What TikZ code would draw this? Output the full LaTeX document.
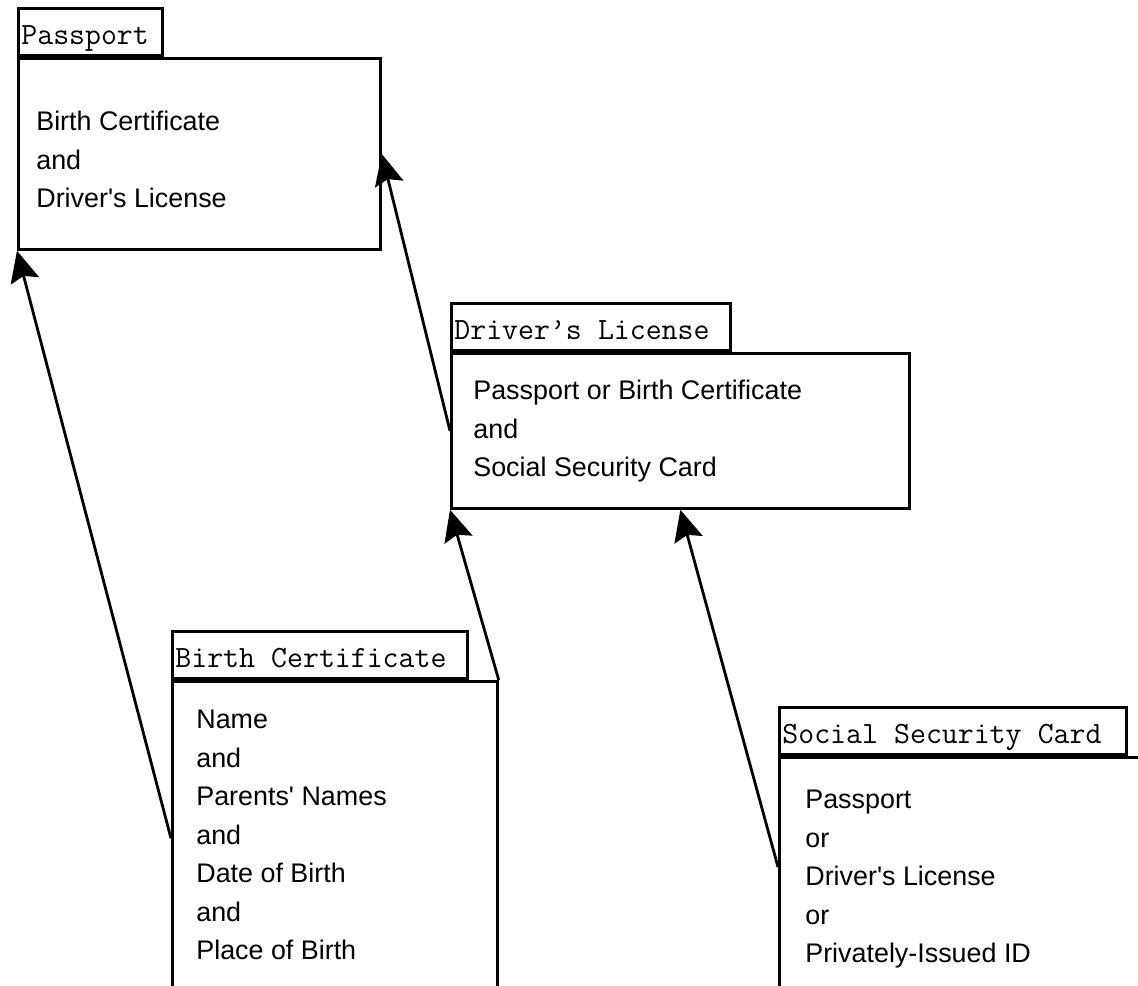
\documentclass[tikz,border=0pt]{standalone}
\usepackage{fontspec}
\setmainfont{Liberation Sans}
\usetikzlibrary{arrows.meta}
\newcommand\tabfont{\ttfamily\fontsize{17.6}{20}\selectfont}
\newcommand\tabgap{\hspace{0.525em}}

\begin{document}
\begin{tikzpicture}[x=0.02cm, y=-0.02cm,
  docbody/.style={rectangle, draw, line width=1.6pt, anchor=north west, inner sep=0pt},
  doctab/.style={rectangle, draw, line width=1.6pt, anchor=south west, inner xsep=0.06cm, inner ysep=0.12cm, text height=0.6cm, text depth=0.1cm, font=\tabfont},
  doctext/.style={anchor=north west, align=left, inner sep=0pt, font=\fontsize{15.3}{21.9}\selectfont},
  needs/.style={line width=1.6pt, -{Stealth[length=0.62cm, width=0.58cm, inset=0.1cm]}}]
\useasboundingbox (0,0) rectangle (1138,986);
\clip (0,0) rectangle (1138,986);

\node[docbody, minimum width=7.24cm, minimum height=3.82cm](ppBody) at (17,57){};
\node[doctab, text width=2.76cm](ppTab) at (ppBody.north west){Passport};
\node[doctext](ppText) at (36,111){Birth Certificate\\and\\Driver\textquotesingle s License};

\node[docbody, minimum width=9.16cm, minimum height=3.10cm](dlBody) at (450,352){};
\node[doctab, text width=5.46cm](dlTab) at (dlBody.north west){Driver’s\tabgap License};
\node[doctext](dlText) at (473,380){Passport or Birth Certificate\\and\\Social Security Card};

\node[docbody, minimum width=6.5cm, minimum height=6.28cm](bcBody) at (171,680){};
\node[doctab, text width=5.78cm](bcTab) at (bcBody.north west){Birth\tabgap Certificate};
\node[doctext](bcText) at (196,710){Name\\and\\Parents\textquotesingle\ Names\\and\\Date of Birth\\and\\Place of Birth};

\node[docbody, minimum width=12cm, minimum height=8cm](sscBody) at (778,756){};
\node[doctab, text width=6.82cm](sscTab) at (sscBody.north west){Social\tabgap Security\tabgap Card};
\node[doctext](sscText) at (805,790){Passport\\or\\Driver\textquotesingle s License\\or\\Privately-Issued ID};

\draw[needs] (bcBody.west) -- (ppBody.south west);
\draw[needs] (bcBody.north east) -- (dlBody.south west);
\draw[needs] ([yshift=-2.22cm]sscBody.north west) -- (dlBody.south);
\draw[needs] (dlBody.west) -- (ppBody.east);

\end{tikzpicture}
\end{document}
